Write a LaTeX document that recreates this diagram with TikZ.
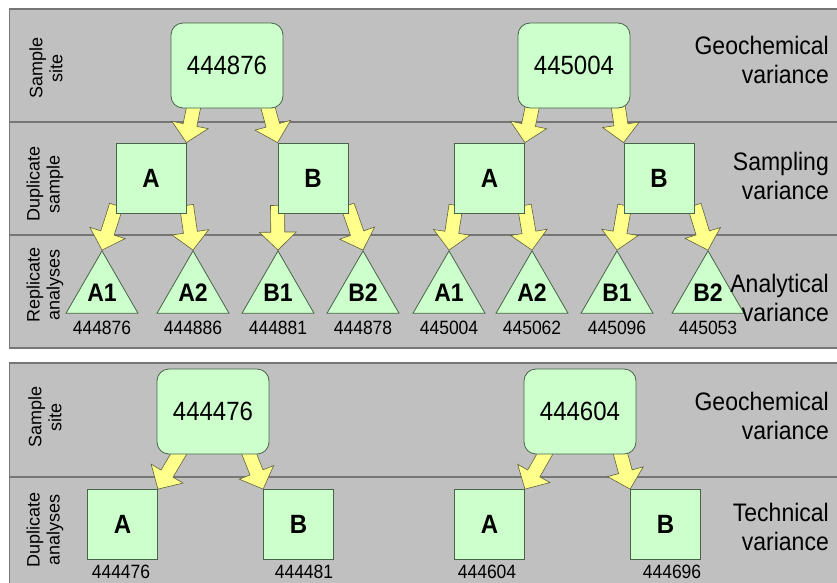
\documentclass[tikz,border=0pt]{standalone}
\usepackage{fontspec}
\setmainfont{Liberation Sans}
\usepackage{graphicx}
\usetikzlibrary{calc,shapes.geometric}

\pgfdeclarelayer{bg}
\pgfdeclarelayer{arrowlayer}
\pgfsetlayers{bg,arrowlayer,main}

\definecolor{panelgray}{RGB}{192,192,192}
\definecolor{paneledge}{RGB}{118,118,118}
\definecolor{boxgreen}{RGB}{204,255,204}
\definecolor{boxedge}{RGB}{72,100,72}
\definecolor{arrowfill}{RGB}{255,255,140}
\definecolor{arrowedge}{RGB}{96,96,60}

% text slightly taller than wide
\newcommand{\tallt}[1]{\scalebox{1}[1.1]{#1}}
\newcommand{\fsz}[2]{\fontsize{#1}{#2}\selectfont}

% wide block arrow from a tail point to a tip point
\newcommand{\blockarrow}[2]{%
  \begin{pgfonlayer}{arrowlayer}
    \path (#1) coordinate (ba-t) (#2) coordinate (ba-h);
    \coordinate (ba-b) at ($(ba-h)!18pt!(ba-t)$);
    \draw[blockarr]
      ($(ba-t)!7pt!90:(ba-h)$) -- ($(ba-b)!7pt!90:(ba-h)$) --
      ($(ba-b)!18.5pt!90:(ba-h)$) -- (ba-h) --
      ($(ba-b)!18.5pt!-90:(ba-h)$) -- ($(ba-b)!7pt!-90:(ba-h)$) --
      ($(ba-t)!7pt!-90:(ba-h)$) -- cycle;
  \end{pgfonlayer}}

\tikzset{
  sitebox/.style={draw=boxedge, fill=boxgreen, line width=0.8pt,
    rounded corners=12pt, minimum width=112pt, minimum height=85pt,
    inner sep=0pt, font=\fsz{24}{28}},
  dupbox/.style={draw=boxedge, fill=boxgreen, line width=0.8pt,
    minimum width=70pt, minimum height=70pt, inner sep=0pt,
    font=\fsz{24}{28}\bfseries},
  repbox/.style={regular polygon, regular polygon sides=3,
    minimum size=75pt, inner sep=0pt, draw=boxedge, fill=boxgreen,
    line width=0.8pt, font=\fsz{23}{27}\bfseries},
  idlbl/.style={inner sep=0pt, font=\fsz{17.5}{20}},
  varlbl/.style={anchor=east, inner sep=0pt, font=\fsz{23}{26.5}},
  rowlbl/.style={rotate=90, align=center, inner sep=0pt, font=\fsz{18}{20}},
  blockarr/.style={fill=arrowfill, draw=arrowedge, line width=0.6pt, line join=miter},
  panel/.style={fill=panelgray, draw=paneledge, line width=1.4pt},
  rowline/.style={draw=paneledge, line width=1.3pt},
}

\begin{document}
\begin{tikzpicture}[x=1pt, y=-1pt]
\useasboundingbox (0,0) rectangle (837,582);

% panels and row separators
\begin{pgfonlayer}{bg}
  \fill[white] (0,0) rectangle (837,582);
  \draw[panel] (9.5,9) rectangle (850,348);
  \draw[panel] (9.5,363) rectangle (850,600);
  \draw[rowline] (9.5,122) -- (850,122);
  \draw[rowline] (9.5,235) -- (850,235);
  \draw[rowline] (9.5,477) -- (850,477);
\end{pgfonlayer}

% ---------- upper panel ----------
\node[sitebox] (s1) at (227,65.5) {\tallt{444876}};
\node[sitebox] (s2) at (574,65.5) {\tallt{445004}};

\node[dupbox] (dA1) at (151,178) {\tallt{A}};
\node[dupbox] (dB1) at (313,178) {\tallt{B}};
\node[dupbox] (dA2) at (489.5,178) {\tallt{A}};
\node[dupbox] (dB2) at (659,178) {\tallt{B}};

\node[repbox] (tA1a) at (102,292.5) {\tallt{A1}};
\node[repbox] (tA2a) at (193,292.5) {\tallt{A2}};
\node[repbox] (tB1a) at (278,292.5) {\tallt{B1}};
\node[repbox] (tB2a) at (363,292.5) {\tallt{B2}};
\node[repbox] (tA1b) at (449,292.5) {\tallt{A1}};
\node[repbox] (tA2b) at (532,292.5) {\tallt{A2}};
\node[repbox] (tB1b) at (617,292.5) {\tallt{B1}};
\node[repbox] (tB2b) at (708,292.5) {\tallt{B2}};

\node[idlbl] (nA1a) at ($(tA1a.south)+(0,14)$) {\tallt{444876}};
\node[idlbl] (nA2a) at ($(tA2a.south)+(0,14)$) {\tallt{444886}};
\node[idlbl] (nB1a) at ($(tB1a.south)+(0,14)$) {\tallt{444881}};
\node[idlbl] (nB2a) at ($(tB2a.south)+(0,14)$) {\tallt{444878}};
\node[idlbl] (nA1b) at ($(tA1b.south)+(0,14)$) {\tallt{445004}};
\node[idlbl] (nA2b) at ($(tA2b.south)+(0,14)$) {\tallt{445062}};
\node[idlbl] (nB1b) at ($(tB1b.south)+(0,14)$) {\tallt{445096}};
\node[idlbl] (nB2b) at ($(tB2b.south)+(0,14)$) {\tallt{445053}};

\blockarrow{$(s1.south)+(-32,-8)$}{dA1.north east}
\blockarrow{$(s1.south)+(39,-8)$}{dB1.north west}
\blockarrow{$(s2.south)+(-40.4,-8)$}{dA2.north east}
\blockarrow{$(s2.south)+(43.3,-8)$}{dB2.north west}

\blockarrow{$(dA1.south)+(-34.7,-8)$}{tA1a.corner 1}
\blockarrow{$(dA1.south)+(35.5,-8)$}{tA2a.corner 1}
\blockarrow{$(dB1.south)+(-35.5,-8)$}{tB1a.corner 1}
\blockarrow{$(dB1.south)+(34.5,-8)$}{tB2a.corner 1}
\blockarrow{$(dA2.south)+(-33.5,-8)$}{tA1b.corner 1}
\blockarrow{$(dA2.south)+(34.8,-8)$}{tA2b.corner 1}
\blockarrow{$(dB2.south)+(-34.3,-8)$}{tB1b.corner 1}
\blockarrow{$(dB2.south)+(35.3,-8)$}{tB2b.corner 1}

\node[rowlbl] (lss1) at (46,68) {Sample\\site};
\node[rowlbl] (lds1) at (45,184) {Duplicate\\sample};
\node[rowlbl] (lra1) at (45,285) {Replicate\\analyses};

\node[varlbl] (vg1) at (829,63) {\tallt{\begin{tabular}{@{}r@{}}Geochemical\\variance\end{tabular}}};
\node[varlbl] (vs1) at (829,179) {\tallt{\begin{tabular}{@{}r@{}}Sampling\\variance\end{tabular}}};
\node[varlbl] (va1) at (829,301) {\tallt{\begin{tabular}{@{}r@{}}Analytical\\variance\end{tabular}}};

% ---------- lower panel ----------
\node[sitebox] (s3) at (213,411.5) {\tallt{444476}};
\node[sitebox] (s4) at (580,411.5) {\tallt{444604}};

\node[dupbox] (qA1) at (122.5,524.5) {\tallt{A}};
\node[dupbox] (qB1) at (298.5,524.5) {\tallt{B}};
\node[dupbox] (qA2) at (489.5,524.5) {\tallt{A}};
\node[dupbox] (qB2) at (665.5,524.5) {\tallt{B}};

\node[idlbl] (mA1) at (121,572) {\tallt{444476}};
\node[idlbl] (mB1) at (304,572) {\tallt{444481}};
\node[idlbl] (mA2) at (487,572) {\tallt{444604}};
\node[idlbl] (mB2) at (672,572) {\tallt{444696}};

\blockarrow{$(s3.south)+(-31,-6)$}{qA1.north east}
\blockarrow{$(s3.south)+(34,-6)$}{qB1.north west}
\blockarrow{$(s4.south)+(-32,-6)$}{qA2.north east}
\blockarrow{$(s4.south)+(39,-6)$}{qB2.north west}

\node[rowlbl] (lss2) at (45,417) {Sample\\site};
\node[rowlbl] (lda2) at (45,530) {Duplicate\\analyses};

\node[varlbl] (vg2) at (829,419) {\tallt{\begin{tabular}{@{}r@{}}Geochemical\\variance\end{tabular}}};
\node[varlbl] (vt2) at (829,530) {\tallt{\begin{tabular}{@{}r@{}}Technical\\variance\end{tabular}}};
\end{tikzpicture}
\end{document}
